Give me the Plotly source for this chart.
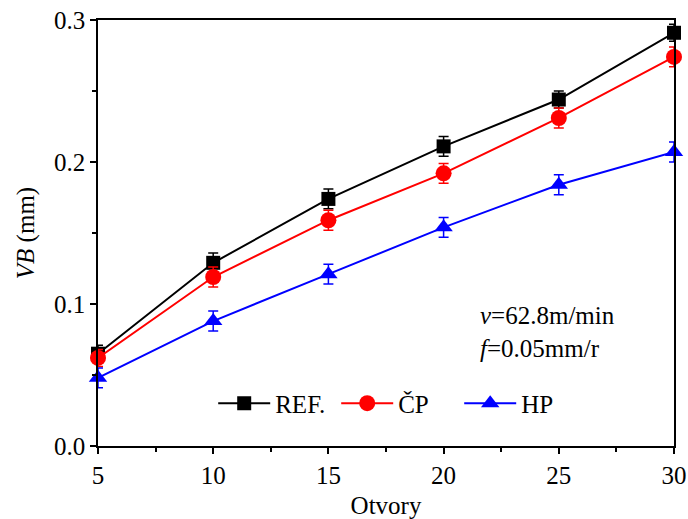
import plotly.graph_objects as go

holes = [5, 10, 15, 20, 25, 30]
ref_vals = [0.065, 0.129, 0.174, 0.211, 0.244, 0.291]
cp_vals = [0.062, 0.119, 0.159, 0.192, 0.231, 0.274]
hp_vals = [0.048, 0.088, 0.121, 0.154, 0.184, 0.207]
ref_err = [0.006, 0.007, 0.007, 0.007, 0.006, 0.006]
cp_err = [0.006, 0.007, 0.007, 0.007, 0.007, 0.007]
hp_err = [0.007, 0.007, 0.007, 0.007, 0.007, 0.007]

series = [
    ("REF.", ref_vals, ref_err, "black", "square", 14),
    ("ČP", cp_vals, cp_err, "red", "circle", 16),
    ("HP", hp_vals, hp_err, "blue", "triangle-up", 16),
]

FONT = "Liberation Serif, Times New Roman, serif"
FS = 25

fig = go.Figure()
for name, vals, err, color, sym, sz in series:
    fig.add_trace(go.Scatter(
        x=holes, y=vals, name=name, mode="lines+markers",
        line=dict(color=color, width=2),
        marker=dict(symbol=sym, size=sz, color=color),
        error_y=dict(type="data", array=err, visible=True, color=color,
                     thickness=1.5, width=5),
        cliponaxis=False,
    ))

fig.add_annotation(x=0.66, y=0.080, xref="paper", yref="y",
                   text="<i>v</i>=62.8m/min<br><i>f</i>=0.05mm/r",
                   showarrow=False, xanchor="left", yanchor="middle", align="left",
                   font=dict(family=FONT, size=FS, color="black"))

fig.update_layout(
    width=688, height=519,
    margin=dict(l=98, r=14, t=20, b=73, autoexpand=False),
    paper_bgcolor="white", plot_bgcolor="white",
    font=dict(family=FONT, size=FS, color="black"),
    showlegend=True,
    legend=dict(orientation="h", x=0.2, y=0.1, xanchor="left", yanchor="middle",
                font=dict(family=FONT, size=FS, color="black"),
                bgcolor="rgba(0,0,0,0)", itemwidth=52, entrywidth=56,
                tracegroupgap=0),
)
fig.update_xaxes(range=[5, 30], tickvals=[5, 10, 15, 20, 25, 30],
                 ticks="outside", ticklen=6, tickwidth=1.5, tickcolor="black",
                 minor=dict(tickvals=[7.5, 12.5, 17.5, 22.5, 27.5], ticks="outside",
                            ticklen=4, tickwidth=1.5, tickcolor="black"),
                 showline=True, linecolor="black", linewidth=1.5, mirror=True,
                 showgrid=False, zeroline=False, automargin=False,
                 ticklabeloverflow="allow",
                 title=dict(text="Otvory", font=dict(family=FONT, size=FS), standoff=12),
                 tickfont=dict(family=FONT, size=FS))
fig.update_yaxes(range=[0, 0.3], tickvals=[0.0, 0.1, 0.2, 0.3],
                 ticktext=["0.0", "0.1", "0.2", "0.3"],
                 ticks="outside", ticklen=6, tickwidth=1.5, tickcolor="black",
                 minor=dict(tickvals=[0.05, 0.15, 0.25], ticks="outside",
                            ticklen=4, tickwidth=1.5, tickcolor="black"),
                 showline=True, linecolor="black", linewidth=1.5, mirror=True,
                 showgrid=False, zeroline=False, automargin=False,
                 ticklabeloverflow="allow",
                 title=dict(text="<i>VB</i> (mm)", font=dict(family=FONT, size=FS), standoff=12),
                 tickfont=dict(family=FONT, size=FS))

fig.write_html("out.html", config={"displayModeBar": False},
               post_script="document.body.style.margin='0';document.body.style.overflow='hidden';")
